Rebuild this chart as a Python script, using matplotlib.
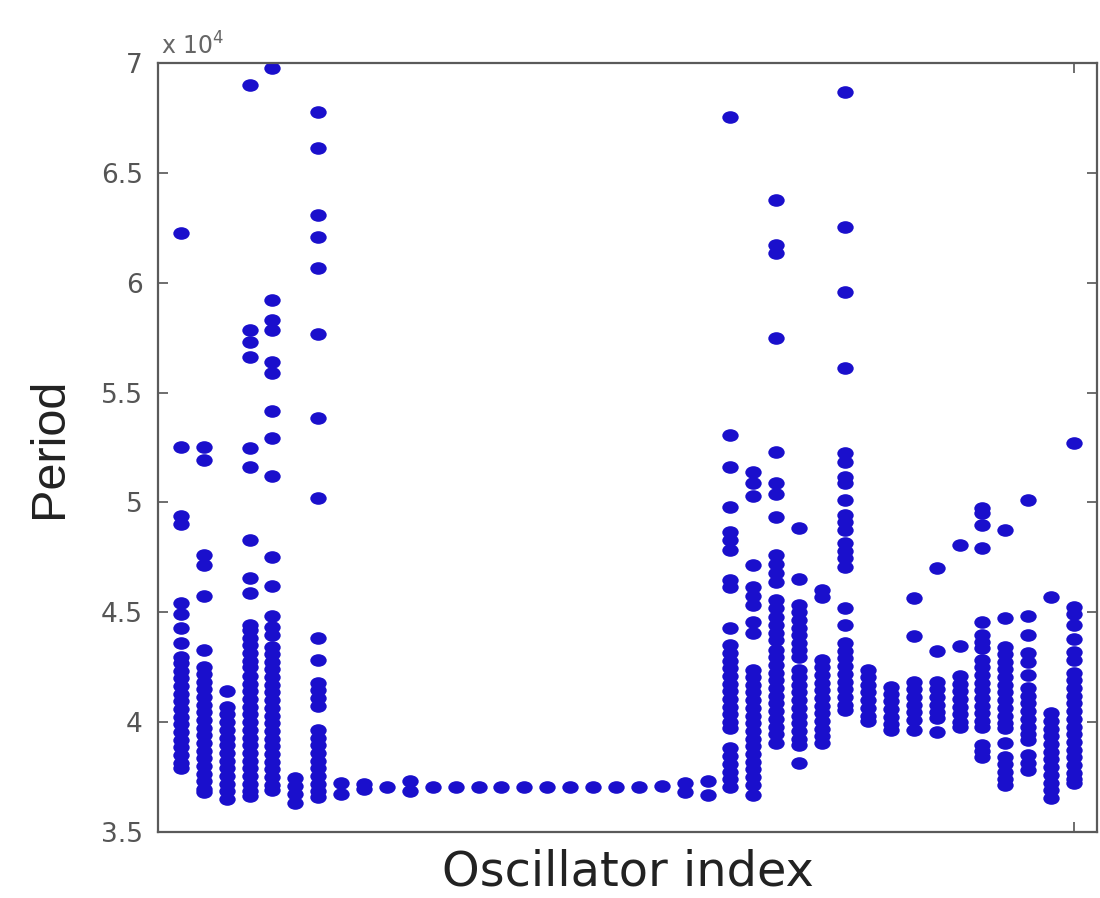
import matplotlib
matplotlib.use("Agg")
import matplotlib.pyplot as plt
from matplotlib.path import Path
from matplotlib.transforms import Affine2D

# period samples per oscillator
c1 = [62260, 52540, 49400, 49000, 45410, 44900, 44300, 43600, 42980, 42700, 42350, 42000, 41650,
      41300, 40950, 40600, 40250, 39900, 39550, 39200, 38850, 38500, 38150, 37900]
c2 = [52540, 51930, 47600, 47150, 45740, 43290, 42530, 42200, 41850, 41500, 41150, 40800, 40450,
      40100, 39750, 39400, 39050, 38700, 38350, 38000, 37650, 37300, 36950, 36800]
c3 = [41420, 40710, 40350, 40000, 39650, 39300, 38950, 38600, 38250, 37900, 37550, 37200, 36850, 36500]
c4 = [69000, 57850, 57300, 56630, 52460, 51630, 48290, 46550, 45870, 44420, 44200, 43850, 43500,
      43150, 42800, 42520, 42080, 41750, 41400, 41050, 40700, 40350, 40000, 39650, 39300, 38950,
      38600, 38250, 37900, 37550, 37200, 36850, 36650]
c5 = [69760, 59210, 58300, 57850, 56410, 55900, 54160, 52950, 51200, 47530, 46200, 44850, 44350,
      43970, 43440, 43100, 42750, 42400, 42050, 41700, 41350, 41000, 40650, 40300, 39950, 39600,
      39250, 38900, 38550, 38200, 37850, 37500, 37150, 36890]
c6 = [37440, 37100, 36750, 36300]
c7 = [67780, 66120, 63080, 62100, 60690, 57650, 53860, 50190, 43820, 42830, 41780, 41450, 41100,
      40750, 39650, 39300, 38950, 38600, 38250, 37900, 37550, 37200, 36850, 36600]
c8 = [37250, 36750]
c9 = [37200, 36950]
c10 = [37070]
c11 = [37300, 36850]
c12 = [37050]
c13 = [37050]
c14 = [37050]
c15 = [37050]
c16 = [37050]
c17 = [37050]
c18 = [37050]
c19 = [37050]
c20 = [37050]
c21 = [37050]
c22 = [37100]
c23 = [37250, 36800]
c24 = [37300, 36700]
c25 = [67530, 53050, 51630, 49810, 48670, 48290, 47840, 46470, 46160, 44300, 43510, 43150, 42800,
       42450, 42100, 41750, 41400, 41050, 40700, 40350, 40000, 39720, 38810, 38450, 38100, 37750,
       37400, 37070]
c26 = [51400, 50880, 50300, 47150, 46160, 45740, 45330, 44580, 44050, 42380, 42050, 41700, 41350,
       41000, 40650, 40300, 39950, 39600, 39250, 38900, 38550, 38200, 37850, 37500, 37150, 36690]
c27 = [63770, 61720, 61350, 57500, 52310, 50880, 50400, 49350, 47600, 47200, 46800, 46400, 45560,
       45200, 44800, 44400, 44050, 43740, 43290, 42950, 42600, 42250, 41900, 41550, 41200, 40850,
       40500, 40150, 39800, 39450, 39050]
c28 = [48850, 46500, 45330, 45000, 44650, 44300, 43950, 43600, 43300, 42980, 42380, 42050, 41700,
       41350, 41000, 40650, 40300, 39950, 39600, 39250, 38960, 38130]
c29 = [46020, 45700, 42830, 42500, 42150, 41800, 41450, 41100, 40750, 40400, 40050, 39700, 39350, 39040]
c30 = [68670, 62550, 59560, 56110, 52250, 51860, 51180, 50880, 50110, 49420, 49100, 48750, 48150,
       47800, 47450, 47060, 45180, 44420, 43600, 43250, 42900, 42550, 42200, 41850, 41500, 41150,
       40800, 40570]
c31 = [42380, 42050, 41700, 41350, 41000, 40650, 40300, 40030]
c32 = [41620, 41300, 40950, 40600, 40250, 39900, 39650]
c33 = [45630, 43900, 41850, 41500, 41150, 40800, 40450, 40100, 39650]
c34 = [47030, 43240, 41850, 41500, 41150, 40800, 40450, 40180, 39570]
c35 = [48060, 43480, 42080, 41750, 41400, 41050, 40700, 40350, 40000, 39800]
c36 = [49760, 49530, 48970, 47910, 44580, 43970, 43650, 43380, 42830, 42500, 42150, 41800, 41450,
       41100, 40750, 40400, 40050, 39800, 38960, 38700, 38430]
c37 = [48750, 44730, 43440, 43100, 42750, 42400, 42050, 41700, 41350, 41000, 40650, 40300, 39950,
       39720, 39040, 38430, 38100, 37750, 37400, 37140]
c38 = [50090, 44810, 43970, 43150, 42740, 42150, 41540, 41200, 40850, 40500, 40150, 39800, 39450,
       39180, 38510, 38150, 37830]
c39 = [45710, 40410, 40050, 39700, 39350, 39000, 38650, 38300, 37950, 37600, 37250, 36900, 36540]
c40 = [52720, 45260, 44900, 44400, 43800, 43200, 42830, 42230, 41900, 41550, 41200, 40850, 40500,
       40150, 39800, 39450, 39100, 38750, 38400, 38050, 37700, 37400, 37220]

columns = [c1, c2, c3, c4, c5, c6, c7, c8, c9, c10, c11, c12, c13, c14, c15, c16, c17, c18, c19, c20,
           c21, c22, c23, c24, c25, c26, c27, c28, c29, c30, c31, c32, c33, c34, c35, c36, c37, c38, c39, c40]

y_ticks = [35000, 40000, 45000, 50000, 55000, 60000, 65000, 70000]
y_ticklabels = ['3.5', '4', '4.5', '5', '5.5', '6', '6.5', '7']

xs = []
ys = []
for i, col in enumerate(columns):
    xs += [i + 1] * len(col)
    ys += col

# the source image is a bit stretched sideways, so the dots are wide ellipses
dot = Path.unit_circle().transformed(Affine2D().scale(1.3, 1.0))

fig = plt.figure(figsize=(11, 8.98), dpi=100)
ax = fig.add_axes([0.1436, 0.0735, 0.8536, 0.8563])

ax.plot(xs, ys, linestyle='none', marker=dot, markersize=11.8,
        color='#1a0fcc', markeredgewidth=0)

ax.set_xlim(0, 41)
ax.set_ylim(35000, 70000)
ax.set_xticks([40])
ax.set_xticklabels([])
ax.set_yticks(y_ticks)
ax.set_yticklabels(y_ticklabels)

ax.tick_params(direction='in', length=7, width=1.2, color='#555555',
               top=True, right=True, labelcolor='#555555', labelsize=19, pad=11)
for s in ax.spines.values():
    s.set_color('#5a5a5a')
    s.set_linewidth(1.6)

ax.text(0.003, 1.004, r'x 10$^4$', transform=ax.transAxes, fontsize=17,
        color='#666666', ha='left', va='bottom')

ax.set_ylabel('Period', fontsize=35, family='Liberation Sans', color='#222222')
ax.yaxis.set_label_coords(-0.115, 0.5)
ax.yaxis.label.set_va('center')
ax.set_xlabel('Oscillator index', fontsize=34.5, color='#222222')
ax.xaxis.set_label_coords(0.5, -0.0525)
ax.xaxis.label.set_va('center')

fig.savefig('out.png', dpi=100)
